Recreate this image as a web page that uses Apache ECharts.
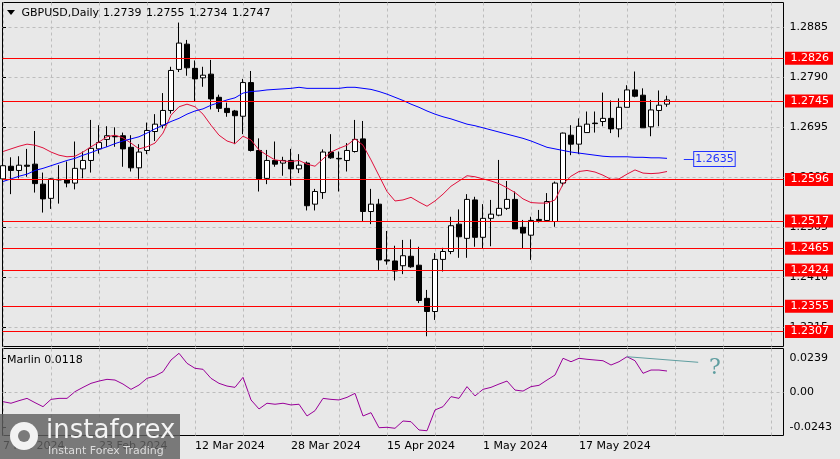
<!DOCTYPE html>
<html><head><meta charset="utf-8">
<script src="https://cdn.jsdelivr.net/npm/echarts@6/dist/echarts.min.js"></script>
<style>html,body{margin:0;padding:0;background:#e8e8e8;} #c{width:840px;height:459px;}</style>
</head><body><div id="c"></div>
<script>
// ---- data (daily bars, index 0 = 7 Feb 2024) ----
const opens = [1.2597,1.2621,1.2613,1.2623,1.2625,1.2587,1.2560,1.2596,1.2595,1.2589,
 1.2616,1.2632,1.2654,1.2672,1.2678,1.2679,1.2657,1.2618,1.2651,1.2687,
 1.2699,1.2727,1.2805,1.2853,1.2807,1.2789,1.2796,1.2752,1.2731,1.2726,
 1.2716,1.2780,1.2651,1.2598,1.2632,1.2627,1.2632,1.2616,1.2627,1.2549,
 1.2571,1.2648,1.2636,1.2632,1.2649,1.2673,1.2535,1.2549,1.2443,1.2441,
 1.2432,1.2450,1.2433,1.2370,1.2345,1.2444,1.2459,1.2511,1.2484,1.2557,
 1.2486,1.2522,1.2528,1.2541,1.2558,1.2505,1.2490,1.2520,1.2518,1.2516,
 1.2589,1.2680,1.2663,1.2685,1.2703,1.2706,1.2712,1.2692,1.2733,1.2766,
 1.2756,1.2696,1.2727,1.2739];
const closes = [1.2622,1.2613,1.2623,1.2621,1.2588,1.2559,1.2597,1.2595,1.2589,1.2617,
 1.2632,1.2655,1.2666,1.2679,1.2677,1.2654,1.2618,1.2648,1.2689,1.2701,
 1.2727,1.2803,1.2855,1.2808,1.2787,1.2794,1.2749,1.2731,1.2723,1.2717,
 1.2780,1.2651,1.2597,1.2632,1.2625,1.2632,1.2616,1.2623,1.2546,1.2573,
 1.2648,1.2637,1.2635,1.2651,1.2672,1.2535,1.2549,1.2443,1.2441,1.2422,
 1.2451,1.2430,1.2366,1.2345,1.2444,1.2459,1.2508,1.2487,1.2558,1.2486,
 1.2522,1.2530,1.2541,1.2558,1.2502,1.2494,1.2518,1.2518,1.2554,1.2589,
 1.2684,1.2663,1.2697,1.2701,1.2702,1.2712,1.2692,1.2733,1.2766,1.2754,
 1.2694,1.2728,1.2737,1.2747];
const highs = [1.2639,1.2638,1.2640,1.2654,1.2688,1.2609,1.2598,1.2623,1.2630,1.2668,
 1.2649,1.2709,1.2699,1.2697,1.2695,1.2685,1.2680,1.2663,1.2704,1.2720,
 1.2760,1.2810,1.2894,1.2861,1.2822,1.2810,1.2823,1.2757,1.2742,1.2728,
 1.2787,1.2802,1.2674,1.2652,1.2668,1.2639,1.2654,1.2644,1.2630,1.2578,
 1.2653,1.2682,1.2649,1.2665,1.2709,1.2707,1.2578,1.2559,1.2498,1.2470,
 1.2481,1.2482,1.2468,1.2386,1.2456,1.2466,1.2525,1.2539,1.2568,1.2563,
 1.2549,1.2557,1.2633,1.2593,1.2573,1.2519,1.2525,1.2538,1.2570,1.2592,
 1.2685,1.2699,1.2712,1.2725,1.2725,1.2761,1.2746,1.2750,1.2775,1.2801,
 1.2769,1.2747,1.2765,1.2755];
const lows = [1.2595,1.2568,1.2598,1.2601,1.2571,1.2533,1.2540,1.2550,1.2581,1.2577,
 1.2598,1.2609,1.2645,1.2658,1.2658,1.2620,1.2611,1.2597,1.2644,1.2669,
 1.2693,1.2721,1.2800,1.2793,1.2745,1.2772,1.2729,1.2724,1.2715,1.2663,
 1.2682,1.2649,1.2573,1.2587,1.2620,1.2603,1.2584,1.2608,1.2537,1.2537,
 1.2559,1.2635,1.2573,1.2611,1.2647,1.2517,1.2511,1.2424,1.2434,1.2404,
 1.2416,1.2428,1.2361,1.2298,1.2329,1.2421,1.2454,1.2447,1.2447,1.2468,
 1.2465,1.2469,1.2526,1.2538,1.2502,1.2465,1.2443,1.2514,1.2516,1.2506,
 1.2583,1.2642,1.2644,1.2685,1.2685,1.2697,1.2684,1.2676,1.2733,1.2752,
 1.2694,1.2678,1.2697,1.2734];
const redLine = [1.2649,1.2654,1.2659,1.2663,1.2661,1.2656,1.2648,1.2642,1.2639,1.2640,
 1.2648,1.2658,1.2667,1.2677,1.2680,1.2675,1.2665,1.2654,1.2658,1.2665,
 1.2684,1.2718,1.2734,1.2739,1.2734,1.2720,1.2699,1.2680,1.2669,1.2664,
 1.2678,1.2671,1.2652,1.2642,1.2633,1.2631,1.2630,1.2632,1.2625,1.2621,
 1.2635,1.2648,1.2655,1.2661,1.2673,1.2661,1.2633,1.2603,1.2573,1.2555,
 1.2557,1.2562,1.2553,1.2545,1.2555,1.2568,1.2583,1.2593,1.2603,1.2601,
 1.2597,1.2593,1.2588,1.2580,1.2571,1.2559,1.2552,1.2551,1.2551,1.2557,
 1.2587,1.2602,1.2611,1.2613,1.2610,1.2604,1.2596,1.2597,1.2606,1.2614,
 1.2608,1.2607,1.2608,1.2611];
const blueLine = [1.2592,1.2597,1.2602,1.2606,1.2613,1.2617,1.2622,1.2627,1.2632,1.2636,
 1.2642,1.2647,1.2653,1.2658,1.2664,1.2669,1.2673,1.2677,1.2684,1.2692,
 1.2699,1.2706,1.2712,1.2720,1.2726,1.2730,1.2737,1.2742,1.2747,1.2751,
 1.2760,1.2763,1.2764,1.2766,1.2767,1.2768,1.2769,1.2771,1.2769,1.2769,
 1.2769,1.2769,1.2769,1.2771,1.2771,1.2769,1.2767,1.2763,1.2758,1.2752,
 1.2746,1.2739,1.2733,1.2726,1.2720,1.2715,1.2711,1.2706,1.2701,1.2698,
 1.2694,1.2690,1.2686,1.2682,1.2678,1.2674,1.2669,1.2663,1.2657,1.2654,
 1.2651,1.2648,1.2646,1.2644,1.2642,1.2640,1.2639,1.2639,1.2639,1.2638,
 1.2638,1.2637,1.2637,1.2636];
const marlin = [-0.0064,-0.0075,-0.0057,-0.0041,-0.0071,-0.0099,-0.0048,-0.0041,-0.0041,0.0006,
 0.0036,0.0064,0.0080,0.0092,0.0087,0.0059,0.0022,0.0052,0.0099,0.0115,
 0.0145,0.0227,0.0274,0.0204,0.0169,0.0162,0.0099,0.0064,0.0045,0.0036,
 0.0106,-0.0052,-0.0115,-0.0075,-0.0082,-0.0075,-0.0087,-0.0082,-0.0164,-0.0127,
 -0.0041,-0.0048,-0.0052,-0.0034,-0.0006,-0.0164,-0.0141,-0.0246,-0.0243,-0.0250,
 -0.0199,-0.0204,-0.0262,-0.0267,-0.0122,-0.0099,-0.0029,-0.0041,0.0041,-0.0024,
 0.0022,0.0036,0.0059,0.0080,0.0017,0.0010,0.0041,0.0050,0.0087,0.0122,
 0.0239,0.0215,0.0239,0.0232,0.0227,0.0222,0.0192,0.0215,0.0250,0.0222,
 0.0134,0.0157,0.0157,0.0150];
const levels = [1.2826,1.2745,1.2596,1.2517,1.2465,1.2424,1.2355,1.2307];
const bidPrice = 1.2747;
const maLabel = 1.2635;
const priceTicks = [1.2885,1.2790,1.2695,1.2600,1.2505,1.2410,1.2315];
const marlinTicks = [0.0239,0,-0.0243];
const dateIdx = [0,12,24,36,48,60,72];
const dateLabels = ['7 Feb 2024','23 Feb 2024','12 Mar 2024','28 Mar 2024','15 Apr 2024','1 May 2024','17 May 2024'];
const vGridIdx = [0,6,12,18,24,30,36,42,48,54,60,66,72,78,84,90,96];
const headerName = 'GBPUSD,Daily';
const headerOHLC = ['1.2739','1.2755','1.2734','1.2747'];
const teal = [[78,0.0250],[86.9,0.0211]];
const questionAt = [89,0.0171];
const maLabelSeg = [85.1,86.4];

// ---- chart ----
const FONT = 'DejaVu Sans';
const BG = '#e8e8e8';
const GRID = '#bdbdbd';
const X_MIN = -0.0625, X_MAX = X_MIN + 781/8;
const candleData = opens.map((o,i)=>[i,o,closes[i],lows[i],highs[i]]);
const toXY = arr => arr.map((v,i)=>[i,v]);
const splitLine = {show:true,lineStyle:{color:GRID,width:1,type:[3,3]}};

const headerGraphics = [
  {type:'polygon',shape:{points:[[7,10],[15,10],[11,15]]},style:{fill:'#000'},z:50},
  {type:'text',x:21.5,y:13,style:{text:headerName,fontSize:11,fontFamily:FONT,fill:'#000',verticalAlign:'middle'},z:50}
].concat(headerOHLC.map((t,k)=>({type:'text',x:103+43*k,y:13,
  style:{text:t,fontSize:11,fontFamily:FONT,fill:'#000',verticalAlign:'middle'},z:50})));

const chart = echarts.init(document.getElementById('c'), null, {renderer:'canvas'});
chart.setOption({
  animation:false,
  backgroundColor:BG,
  textStyle:{fontFamily:FONT},
  grid:[
    {left:2.5,top:2.5,width:781,height:344,show:true,borderColor:'#000',borderWidth:1,backgroundColor:'transparent'},
    {left:2.5,top:348.5,width:781,height:87,show:true,borderColor:'#000',borderWidth:1,backgroundColor:'transparent'}
  ],
  xAxis:[
    {type:'value',gridIndex:0,min:X_MIN,max:X_MAX,axisLine:{show:false},
     axisTick:{show:false,customValues:vGridIdx},axisLabel:{show:false},splitLine:splitLine},
    {type:'value',gridIndex:1,min:X_MIN,max:X_MAX,axisLine:{show:false},
     axisTick:{show:false,customValues:vGridIdx},
     axisLabel:{show:true,customValues:dateIdx,align:'left',margin:5,color:'#000',fontSize:11,fontFamily:FONT,
       formatter:v=>dateLabels[dateIdx.indexOf(Math.round(v))]||''},
     splitLine:splitLine}
  ],
  yAxis:[
    {type:'value',gridIndex:0,position:'right',min:1.227852,max:1.293212,axisLine:{show:false},
     axisTick:{show:true,customValues:priceTicks,length:3,lineStyle:{color:'#000'}},
     axisLabel:{customValues:priceTicks,formatter:v=>v.toFixed(4),margin:6,fontSize:11,color:'#000',fontFamily:FONT},
     splitLine:splitLine},
    {type:'value',gridIndex:1,position:'right',min:-0.03004,max:0.030738,axisLine:{show:false},
     axisTick:{show:true,customValues:marlinTicks,length:3,lineStyle:{color:'#000'}},
     axisLabel:{customValues:marlinTicks,formatter:v=>Math.abs(v)<1e-9?'0.00':v.toFixed(4),margin:6,fontSize:11,color:'#000',fontFamily:FONT},
     splitLine:{show:false}}
  ],
  series:[
    {type:'candlestick',xAxisIndex:0,yAxisIndex:0,data:candleData,barWidth:5,
     itemStyle:{color:'#ffffff',color0:'#000000',borderColor:'#000000',borderColor0:'#000000',borderWidth:1},
     silent:true},
    {type:'line',xAxisIndex:0,yAxisIndex:0,data:toXY(redLine),showSymbol:false,symbol:'none',
     lineStyle:{color:'#e0103c',width:1},silent:true,z:3},
    {type:'line',xAxisIndex:0,yAxisIndex:0,data:toXY(blueLine),showSymbol:false,symbol:'none',
     lineStyle:{color:'#0000ff',width:1},silent:true,z:3,clip:false,
     markLine:{silent:true,symbol:['none','none'],animation:false,precision:4,
       data:[[{coord:[maLabelSeg[0],maLabel]},{coord:[maLabelSeg[1],maLabel]}]],
       lineStyle:{color:'#2233ff',width:1,type:'solid'},
       label:{show:true,position:'end',distance:0,formatter:maLabel.toFixed(4),color:'#2233ff',
         borderColor:'#2233ff',borderWidth:1,backgroundColor:BG,padding:[2,1,1,1],fontSize:11,fontFamily:FONT}}},
    {type:'line',xAxisIndex:0,yAxisIndex:0,data:[],clip:false,z:4,
     markLine:{silent:true,symbol:['none','none'],animation:false,precision:4,
       data:[{yAxis:bidPrice,lineStyle:{opacity:0},label:{backgroundColor:'#000'}}]
         .concat(levels.map(v=>({yAxis:v}))),
       lineStyle:{color:'#ff0000',width:1,type:'solid'},
       label:{show:true,position:'end',distance:1.5,formatter:p=>Number(p.value).toFixed(4),color:'#fff',
         backgroundColor:'#ff0000',padding:[0,4,0,5.5],lineHeight:13,fontSize:11,fontFamily:FONT}}},
    {type:'line',xAxisIndex:1,yAxisIndex:1,data:toXY(marlin),showSymbol:false,symbol:'none',
     lineStyle:{color:'#990099',width:1},silent:true,z:3,clip:false,
     markLine:{silent:true,symbol:['none','none'],animation:false,precision:4,
       data:[{yAxis:0,lineStyle:{color:GRID,type:[3,3],width:1}},
             [{coord:teal[0]},{coord:teal[1]}]],
       lineStyle:{color:'#5f9ea0',width:1,type:'solid'},label:{show:false}},
     markPoint:{silent:true,animation:false,symbol:'circle',symbolSize:1,itemStyle:{color:'rgba(0,0,0,0)'},
       data:[{coord:questionAt}],
       label:{show:true,position:'inside',formatter:'?',color:'#5f9ea0',fontSize:22,fontFamily:'DejaVu Serif'}}}
  ],
  graphic:headerGraphics.concat([
    {type:'text',x:7,y:360,style:{text:'Marlin 0.0118',fontSize:11,fontFamily:FONT,fill:'#000',verticalAlign:'middle'},z:50},
    {type:'rect',shape:{x:0,y:414,width:180,height:45},style:{fill:'rgba(96,96,96,0.82)'},z:60},
    {type:'circle',shape:{cx:24,cy:436,r:14},style:{fill:'#f2f2f2'},z:61},
    {type:'circle',shape:{cx:24,cy:436,r:6},style:{fill:'#7a7a7a'},z:62},
    {type:'text',x:46,y:431,style:{text:'instaforex',fontSize:26,fontFamily:'DejaVu Sans',fill:'#f4f4f4',verticalAlign:'middle'},z:62},
    {type:'text',x:48,y:451,style:{text:'Instant Forex Trading',fontSize:11,fontFamily:FONT,fill:'#dddddd',verticalAlign:'middle'},z:62}
  ])
});
</script></body></html>
